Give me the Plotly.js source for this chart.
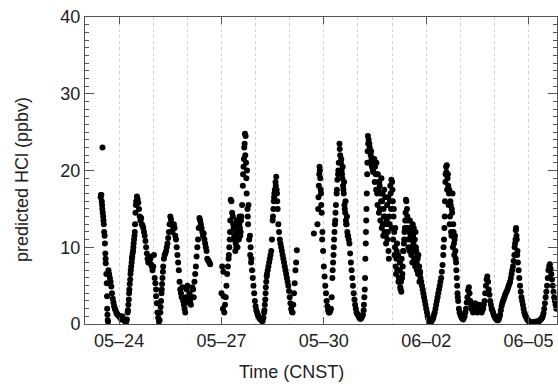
<!DOCTYPE html>
<html>
<head>
<meta charset="utf-8">
<script src="https://cdn.plot.ly/plotly-3.0.1.min.js"></script>
<style>html,body{margin:0;padding:0;background:#fff;}#chart{width:558px;height:390px;}</style>
</head>
<body>
<div id="chart"></div>
<script>
// Predicted HCl (ppbv), starting 05-23 00:00 CNST; null = no data
const startDay = '2014-05-23';
// values on the hour (h = 0, 1, 2, ...)
const hcl = [
  // 05-23
  null,null,null,null,null,null,null,null,null,null,null,16.5,15.5,13.5,10.5,6.5,0.5,6.5,5.5,4.0,2.8,2.0,1.5,1.2,
  // 05-24
  1.0,0.8,1.0,0.6,0.4,0.3,1.5,4.0,6.5,8.5,10.0,12.0,16.0,16.3,15.0,13.5,13.0,12.5,11.5,10.0,8.5,8.0,8.5,7.5,
  // 05-25
  7.5,6.0,4.5,1.5,0.3,1.5,4.5,7.5,9.0,9.5,10.5,12.0,14.0,13.0,12.5,12.5,11.0,9.0,7.0,4.5,3.5,3.0,2.0,3.5,
  // 05-26
  5.0,3.5,3.0,3.5,4.5,5.5,7.5,10.0,12.5,13.5,12.5,11.5,11.0,10.0,8.5,8.2,7.8,null,null,null,null,null,null,null,
  // 05-27
  4.0,2.0,1.5,3.5,6.5,8.5,12.0,16.0,14.0,11.5,10.5,11.0,12.0,12.5,14.0,18.0,23.0,24.5,20.0,15.5,11.5,8.5,6.0,4.0,
  // 05-28
  2.3,1.5,1.0,0.7,0.5,0.4,1.5,4.0,6.5,7.5,8.5,9.5,13.5,16.5,18.5,17.0,13.0,11.0,10.0,9.0,8.0,7.0,6.0,5.0,
  // 05-29
  3.5,2.0,1.5,4.0,7.0,9.6,null,null,null,null,null,null,null,null,null,null,null,11.8,null,null,15.0,20.5,17.0,12.0,
  // 05-30
  7.5,5.0,3.0,1.8,1.5,2.0,6.0,10.0,13.5,17.0,19.5,23.5,21.0,19.0,17.0,14.5,13.0,11.5,10.5,8.0,6.0,4.0,2.5,1.5,
  // 05-31
  1.2,0.8,0.7,1.0,1.8,6.0,15.0,24.5,23.5,22.0,21.5,21.0,20.5,21.0,19.5,18.5,17.0,16.0,15.0,14.0,13.0,12.0,14.0,17.0,
  // 06-01
  18.5,14.0,10.0,8.5,7.0,5.5,4.5,6.0,9.5,12.5,16.0,13.5,12.0,11.5,12.0,10.5,11.0,9.5,8.5,7.5,6.0,5.0,4.0,3.0,
  // 06-02
  2.0,1.0,0.5,0.2,0.5,0.8,1.5,2.5,3.5,4.5,5.5,6.8,9.0,14.0,20.5,19.0,17.0,16.0,15.0,13.0,11.0,8.0,4.0,2.0,
  // 06-03
  1.2,0.8,0.6,1.0,2.0,3.5,4.8,3.0,2.0,1.5,2.5,2.0,1.5,2.2,1.8,1.5,2.0,3.0,5.0,6.2,4.5,3.0,2.0,1.5,
  // 06-04
  1.0,0.7,0.5,0.6,1.2,2.3,3.0,3.5,4.0,4.4,5.0,5.5,6.5,7.5,9.0,12.2,9.0,7.0,5.0,3.5,2.5,1.5,1.0,0.6,
  // 06-05
  0.4,0.3,0.2,0.2,0.2,0.3,0.3,0.4,0.5,0.7,1.0,2.0,3.5,5.0,7.0,7.8,6.5,5.0,3.5,2.5
];
// values at half past each hour (h = 0.5, 1.5, 2.5, ...)
const hclHalf = [
  // 05-23
  null,null,null,null,null,null,null,null,null,null,null,16.8,14.5,12.0,8.5,3.6,7.0,6.0,4.9,3.3,2.3,1.8,1.3,1.1,
  // 05-24
  0.9,0.6,0.9,0.5,0.3,0.6,2.5,5.2,7.5,9.2,11.0,14.5,16.6,15.8,14.0,13.8,12.8,12.0,10.8,9.2,8.0,8.8,7.8,7.0,
  // 05-25
  9.0,5.3,2.7,0.8,0.5,3.0,6.0,8.5,9.2,10.0,11.2,13.0,13.6,12.0,13.0,11.5,10.0,8.0,5.5,4.0,4.8,2.5,1.5,4.5,
  // 05-26
  2.8,4.0,2.5,4.8,3.5,6.5,8.8,11.0,13.8,13.0,12.0,11.8,10.5,9.5,8.3,8.0,null,null,null,null,null,null,null,null,
  // 05-27
  7.5,3.6,2.5,5.0,7.5,10.0,16.2,14.5,12.5,13.0,10.0,11.5,13.0,12.0,15.5,20.5,24.8,19.0,14.0,11.0,10.0,7.0,5.0,3.0,
  // 05-28
  1.8,1.2,0.8,0.6,0.4,0.8,2.5,5.5,7.0,8.0,9.0,11.0,15.0,17.5,19.2,15.0,12.0,10.5,9.5,8.5,7.5,6.5,5.5,4.3,
  // 05-29
  2.7,1.6,2.5,5.3,8.0,null,null,null,null,null,null,null,null,null,null,null,null,null,null,13.0,18.0,19.0,14.5,9.5,
  // 05-30
  6.2,4.0,2.3,1.5,1.7,3.5,8.0,12.0,15.5,18.8,21.0,22.0,20.0,18.0,15.5,13.5,12.0,11.0,9.2,7.0,5.0,3.2,2.0,1.3,
  // 05-31
  1.0,0.7,0.8,1.2,3.5,10.5,19.5,24.0,22.5,21.5,20.0,21.5,19.5,17.0,18.5,15.0,19.0,13.0,17.5,11.5,15.5,9.5,16.0,18.8,
  // 06-01
  16.0,12.0,7.5,10.5,5.5,8.0,4.2,7.5,11.0,14.5,15.0,10.0,13.5,9.0,13.0,8.5,12.0,7.0,9.0,6.5,5.5,4.5,3.5,2.5,
  // 06-02
  1.5,0.7,0.3,0.3,0.6,1.2,2.0,3.0,4.0,5.0,6.0,7.7,11.0,18.5,20.7,18.0,13.0,12.0,17.0,10.5,9.5,6.0,3.0,1.5,
  // 06-03
  1.0,0.7,0.8,1.5,2.8,4.4,4.0,2.5,1.8,2.0,2.7,1.7,1.8,2.5,1.6,1.8,2.5,4.0,5.8,5.5,3.8,2.5,1.8,1.2,
  // 06-04
  0.8,0.6,0.5,0.9,1.8,2.7,3.2,3.8,4.2,4.7,5.2,6.0,7.0,8.2,10.5,11.5,8.0,6.0,4.2,3.0,2.0,1.2,0.8,0.5,
  // 06-05
  0.3,0.2,0.2,0.2,0.3,0.3,0.3,0.4,0.6,0.8,1.4,2.7,4.2,6.0,7.5,7.2,5.8,4.2,3.0,2.0
];
// further readings where the dots are dense (hours after 05-23 00:00)
const extraHours = [12.3,11.2,11.8,12.2,12.8,13.2,13.8,14.3,14.6,15.3,15.6,15.8,16.2,
  30.2,30.8,31.2,31.8,32.2,32.8,33.2,33.8,34.2,34.8,35.2,35.8,50.0,53.2,53.8,54.2,54.8,
  97.3,101.2,101.8,102.2,104.25,104.75,105.25,105.75,106.25,106.75,107.25,107.75,108.25,108.75,109.25,109.75,
  111.2,111.8,112.3,112.7,113.3,113.7,114.3,114.7,116.2,116.8,
  126.2,126.8,127.2,127.8,132.2,132.8,133.2,134.2,134.8,135.2,164.2,164.8,165.2,165.8,166.2,166.8,
  174.2,174.8,175.2,175.8,176.2,177.2,178.2,179.2,180.25,180.75,181.25,181.75,182.25,182.75,183.25,183.75,184.25,184.75,
  196.2,196.8,197.2,197.6,197.8,198.2,198.6,198.8,199.2,
  200.25,200.75,201.25,201.75,202.25,202.75,203.25,203.75,204.25,204.75,205.25,205.75,206.25,206.75,207.25,207.75,
  208.25,208.75,209.25,209.75,210.25,210.75,211.25,211.75,212.25,212.75,213.25,213.75,214.25,214.75,215.25,215.75,
  216.25,216.75,217.25,217.75,218.25,218.75,219.25,219.75,220.25,220.75,221.25,221.75,222.25,222.75,223.25,223.75,
  224.25,224.75,225.25,225.75,226.25,226.75,227.25,227.75,228.25,228.75,229.25,229.75,230.25,230.75,231.25,231.75,
  232.25,232.75,233.25,233.75,234.25,234.75,235.25,235.75,
  252.2,252.8,253.2,253.7,254.2,254.75,255.25,255.75,256.25,256.75,257.25,257.75,258.25,258.75,259.25,259.75,260.25,260.75,
  261.2,261.8,262.2,302.2,302.8,303.2,303.7,304.2];
const extraVals = [23.0,16.8,16.0,15.0,14.0,13.0,11.5,9.2,7.9,5.3,2.0,1.2,0.3,
  1.8,3.2,4.5,5.8,7.0,8.0,8.8,9.5,10.5,11.5,13.0,15.5,3.6,2.2,4.0,5.2,6.8,
  6.8,9.0,11.0,13.5,13.0,11.0,12.5,9.5,12.0,13.5,10.0,12.5,11.0,14.0,11.5,13.5,
  19.5,21.5,23.5,22.0,21.0,17.0,15.0,13.0,9.0,8.0,
  1.8,3.2,4.8,6.2,14.0,16.0,17.0,18.0,17.5,16.0,16.5,19.5,20.0,17.5,15.5,11.0,
  7.0,9.0,11.0,13.0,14.5,17.5,20.0,22.8,21.5,19.5,20.5,17.5,18.5,15.0,16.0,13.0,14.0,11.5,
  2.5,4.5,8.5,12.0,13.5,17.0,21.0,22.5,23.5,
  23.0,21.0,22.5,20.5,21.0,19.8,20.8,18.5,21.0,17.5,19.5,15.5,17.5,14.5,18.0,13.5,
  16.0,12.5,17.0,11.5,14.0,12.0,16.5,10.5,13.5,11.0,16.5,8.5,13.0,18.0,15.0,12.5,
  17.5,11.0,15.0,9.0,12.5,6.5,9.5,7.0,9.0,6.0,7.0,4.8,5.5,8.5,6.5,9.5,
  10.5,12.0,13.5,16.2,12.5,14.0,11.0,12.5,9.5,11.0,12.5,10.0,8.0,11.5,12.5,9.5,
  7.5,10.0,8.0,9.0,6.5,7.5,5.5,6.8,
  10.0,12.5,16.0,19.5,19.8,17.5,19.5,15.5,17.5,14.0,15.5,11.5,14.5,10.0,12.0,9.0,11.5,8.5,
  7.0,5.0,3.5,10.0,11.0,12.5,11.0,9.5];
const tickDays = ['2014-05-24','2014-05-27','2014-05-30','2014-06-02','2014-06-05'];
const tickText = ['05\u201324','05\u201327','05\u201330','06\u201302','06\u201305'];

const t0 = Date.parse(startDay + 'T00:00:00Z');
function tAt(h){ return new Date(t0 + Math.round(h*3600000)).toISOString().slice(0,19).replace('T',' '); }

const xs = [], ys = [];
hcl.forEach((v,i)=>{ if(v!==null){ xs.push(tAt(i)); ys.push(v);} });
hclHalf.forEach((v,i)=>{ if(v!==null){ xs.push(tAt(i+0.5)); ys.push(v);} });
extraHours.forEach((h,i)=>{ xs.push(tAt(h)); ys.push(extraVals[i]); });

const font = {family:'Liberation Sans, Arial, sans-serif', size:18, color:'#222'};
const trace = {type:'scatter', mode:'markers', x:xs, y:ys,
  marker:{color:'#000', size:6, line:{width:0}}, hoverinfo:'skip', showlegend:false};

const layout = {
  width:558, height:390,
  margin:{l:85, r:1, t:17, b:66},
  paper_bgcolor:'#fff', plot_bgcolor:'#fff',
  font: font,
  showlegend:false,
  xaxis:{
    type:'date', range:[tAt(0), tAt(332)],
    tickmode:'array', tickvals:tickDays, ticktext:tickText,
    ticks:'inside', ticklen:7, tickcolor:'#555', tickwidth:1,
    showline:true, linecolor:'#555', linewidth:1, mirror:'allticks',
    showgrid:true, gridcolor:'#cfcfcf', griddash:'dot', gridwidth:1,
    minor:{dtick:86400000, tick0:'2014-05-23', showgrid:true, gridcolor:'#cfcfcf', griddash:'dot', gridwidth:1, ticks:''},
    zeroline:false, tickfont:font
  },
  yaxis:{
    range:[0,40], dtick:10, tick0:0,
    ticks:'inside', ticklen:9, tickcolor:'#555', tickwidth:1,
    showline:true, linecolor:'#555', linewidth:1, mirror:'allticks',
    showgrid:false, zeroline:false,
    minor:{dtick:1, ticks:'inside', ticklen:4, tickcolor:'#555', showgrid:false},
    tickfont:font
  },
  annotations:[
    {text:'Time (CNST)', xref:'paper', yref:'paper', x:(291-85)/472, y:-(372-324)/307,
     xanchor:'center', yanchor:'middle', showarrow:false, font:font},
    {text:'predicted HCl (ppbv)', xref:'paper', yref:'paper', x:-(85-22)/472, y:(324-180)/307,
     xanchor:'center', yanchor:'middle', textangle:-90, showarrow:false, font:font}
  ]
};
Plotly.newPlot('chart', [trace], layout, {staticPlot:true, displayModeBar:false});
</script>
</body>
</html>
